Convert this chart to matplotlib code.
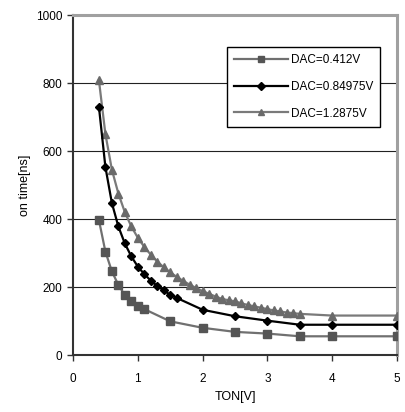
import matplotlib
matplotlib.use("Agg")
import matplotlib.pyplot as plt

plt.rcParams['font.family'] = ['Liberation Sans', 'DejaVu Sans']

x_sq = [0.4, 0.5, 0.6, 0.7, 0.8, 0.9, 1.0, 1.1, 1.5, 2.0, 2.5, 3.0, 3.5, 4.0, 5.0]
y_sq = [397, 304, 246, 206, 176, 158, 145, 135, 99, 80, 68, 63, 55, 55, 55]

x_di = [0.4, 0.5, 0.6, 0.7, 0.8, 0.9, 1.0, 1.1, 1.2, 1.3, 1.4, 1.5, 1.6, 2.0, 2.5, 3.0, 3.5, 4.0, 5.0]
y_di = [730, 553, 447, 378, 328, 290, 260, 238, 219, 203, 190, 177, 168, 133, 114, 101, 89, 89, 89]

x_tr = [0.4, 0.5, 0.6, 0.7, 0.8, 0.9, 1.0, 1.1, 1.2, 1.3, 1.4, 1.5, 1.6, 1.7, 1.8, 1.9,
        2.0, 2.1, 2.2, 2.3, 2.4, 2.5, 2.6, 2.7, 2.8, 2.9, 3.0, 3.1, 3.2, 3.3, 3.4, 3.5, 4.0, 5.0]
y_tr = [808, 650, 545, 475, 420, 378, 345, 318, 295, 275, 258, 243, 230, 218, 207, 197,
        188, 180, 172, 165, 161, 158, 152, 147, 143, 139, 135, 131, 128, 125, 123, 121, 116, 116]

labels = ['DAC=0.412V', 'DAC=0.84975V', 'DAC=1.2875V']
x_ticks = [0, 1, 2, 3, 4, 5]
y_ticks = [0, 200, 400, 600, 800, 1000]

fig = plt.figure(figsize=(4.06, 4.12), dpi=100)
ax = fig.add_axes([73/406, 57/412, 324/406, 340/412])

ax.plot(x_sq, y_sq, color='#707070', lw=1.6, marker='s', ms=5.5,
        mfc='#555555', mec='#555555', label=labels[0], zorder=3)
ax.plot(x_di, y_di, color='black', lw=1.6, marker='D', ms=4.5,
        mfc='black', mec='black', label=labels[1], zorder=4)
ax.plot(x_tr, y_tr, color='#7a7a7a', lw=1.6, marker='^', ms=6,
        mfc='#6a6a6a', mec='#6a6a6a', label=labels[2], zorder=3)

ax.set_xlim(0, 5)
ax.set_ylim(0, 1000)
ax.set_xticks(x_ticks)
ax.set_yticks(y_ticks)
ax.yaxis.grid(True, color='#222222', lw=0.8)
ax.set_axisbelow(True)

ax.tick_params(axis='both', direction='out', length=4, width=1, colors='#333333',
               labelsize=8.5, labelcolor='black')
ax.tick_params(axis='x', pad=9)

for s in ['left', 'bottom']:
    ax.spines[s].set_color('#333333')
    ax.spines[s].set_linewidth(1.5)
for s in ['top', 'right']:
    ax.spines[s].set_color('#a0a0a0')
    ax.spines[s].set_linewidth(2.2)

ax.set_xlabel('TON[V]', fontsize=9, labelpad=4)
ax.set_ylabel('on time[ns]', fontsize=9, labelpad=4)

leg = ax.legend(loc='upper right', bbox_to_anchor=(0.948, 0.906), fontsize=8.5,
                frameon=True, fancybox=False, handlelength=4.6, borderpad=0.6,
                labelspacing=1.25, handletextpad=0.2, borderaxespad=0, markerscale=0.8)
leg.get_frame().set_edgecolor('black')
leg.get_frame().set_linewidth(1.0)
leg.get_frame().set_alpha(1)

fig.savefig('out.png', dpi=100)
